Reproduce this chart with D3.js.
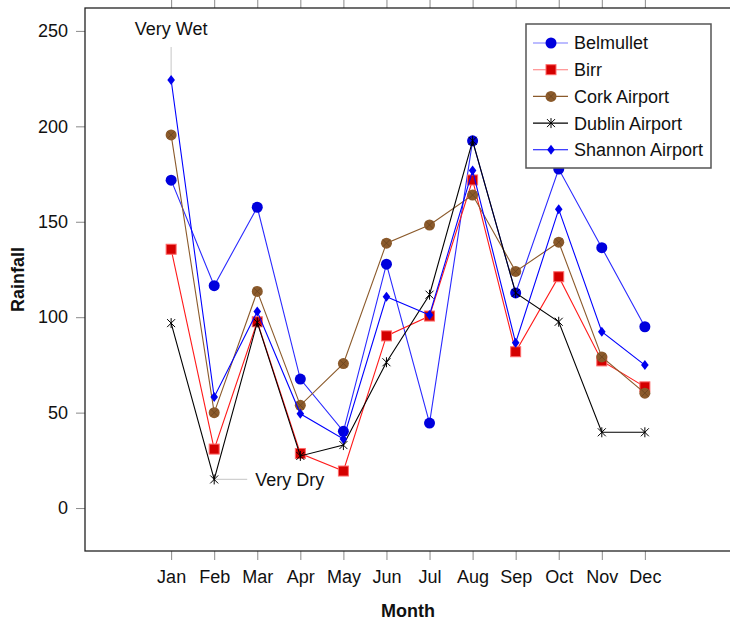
<!DOCTYPE html>
<html>
<head>
<meta charset="utf-8">
<script src="https://cdn.jsdelivr.net/npm/d3@7"></script>
<style>
  html, body { margin: 0; padding: 0; background: #fff; }
  svg { display: block; font-family: "Liberation Sans", Arial, sans-serif; }
</style>
</head>
<body>
<svg id="chart" width="730" height="621"></svg>
<script>
const months = ["Jan","Feb","Mar","Apr","May","Jun","Jul","Aug","Sep","Oct","Nov","Dec"];
const yTicks = [0, 50, 100, 150, 200, 250];

const belmullet = [171.8, 116.5, 157.6, 67.6, 40.2, 127.8, 44.5, 192.4, 112.7, 177.6, 136.4, 95.0];
const birr      = [135.6, 30.9, 97.6, 28.6, 19.4, 90.2, 100.6, 171.9, 81.9, 121.2, 77.1, 63.5];
const cork      = [195.5, 50.0, 113.5, 53.8, 75.7, 138.8, 148.3, 164.0, 124.0, 139.3, 79.2, 60.2];
const dublin    = [96.9, 15.0, 97.3, 27.3, 33.0, 76.4, 111.8, 192.4, 112.7, 97.6, 39.7, 39.7];
const shannon   = [224.3, 58.2, 103.0, 49.4, 36.2, 110.7, 101.2, 176.8, 86.6, 156.5, 92.4, 74.9];

const seriesNames = ["Belmullet", "Birr", "Cork Airport", "Dublin Airport", "Shannon Airport"];
const seriesValues = [belmullet, birr, cork, dublin, shannon];

const styles = {
  "Belmullet":       {line: "#2a2aff", legendLine: "#7a7aff", marker: "circle",  fill: "#0000dd", stroke: "#0000dd"},
  "Birr":            {line: "#ff1a1a", legendLine: "#ff7a7a", marker: "square",  fill: "#d40000", stroke: "#ff6a6a"},
  "Cork Airport":    {line: "#8b5a2b", legendLine: "#8b5a2b", marker: "ocross",  fill: "#8b5a2b", stroke: "#6a4420"},
  "Dublin Airport":  {line: "#000000", legendLine: "#000000", marker: "star",    fill: "none",    stroke: "#000000"},
  "Shannon Airport": {line: "#0000ff", legendLine: "#0000ff", marker: "diamond", fill: "#0000ee", stroke: "#0000ee"}
};

const FS = "18px";
const svg = d3.select("#chart");
const L = 85, T = 8, R = 731, B = 551;

const x = d3.scaleLinear().domain([-2, 13]).range([L, R]);
const y = d3.scaleLinear().domain([-22.5, 262]).range([B, T]);

// Left axis
const yAxis = svg.append("g").attr("transform", `translate(${L},0)`)
  .call(d3.axisLeft(y).tickValues(yTicks).tickSize(9).tickPadding(8).tickSizeOuter(0));
yAxis.select(".domain").remove();
yAxis.selectAll(".tick line").attr("stroke", "#8a8a8a");
yAxis.selectAll(".tick text").attr("fill", "#111").style("font-size", FS).style("font-family", "Liberation Sans, Arial, sans-serif");

// Bottom axis
const xAxis = svg.append("g").attr("transform", `translate(0,${B})`)
  .call(d3.axisBottom(x).tickValues(d3.range(months.length)).tickFormat(i => months[i]).tickSize(9).tickPadding(10).tickSizeOuter(0));
xAxis.select(".domain").remove();
xAxis.selectAll(".tick line").attr("stroke", "#8a8a8a");
xAxis.selectAll(".tick text").attr("fill", "#111").style("font-size", FS).style("font-family", "Liberation Sans, Arial, sans-serif");

// Top axis (ticks only)
const xTop = svg.append("g").attr("transform", `translate(0,${T})`)
  .call(d3.axisTop(x).tickValues(d3.range(months.length)).tickFormat("").tickSize(9).tickSizeOuter(0));
xTop.select(".domain").remove();
xTop.selectAll(".tick line").attr("stroke", "#8a8a8a");

// Frame
svg.append("rect").attr("x", L).attr("y", T).attr("width", R - L).attr("height", B - T)
  .attr("fill", "none").attr("stroke", "#222").attr("stroke-width", 1.3);

// Axis titles
svg.append("text").attr("x", (L + R) / 2).attr("y", 617).attr("text-anchor", "middle")
  .style("font-size", FS).style("font-weight", "bold").attr("fill", "#111").text("Month");
svg.append("text").attr("transform", `translate(24,${(T + B) / 2}) rotate(-90)`).attr("text-anchor", "middle")
  .style("font-size", FS).style("font-weight", "bold").attr("fill", "#111").text("Rainfall");

// Annotations
const wetIdx = 0, dryIdx = 1;
svg.append("line").attr("x1", x(wetIdx)).attr("x2", x(wetIdx)).attr("y1", 47).attr("y2", y(shannon[wetIdx]))
  .attr("stroke", "#d0d0d0").attr("stroke-width", 1.2);
svg.append("text").attr("x", x(wetIdx)).attr("y", 35).attr("text-anchor", "middle")
  .style("font-size", FS).attr("fill", "#111").text("Very Wet");
svg.append("line").attr("x1", x(dryIdx)).attr("x2", x(dryIdx) + 33).attr("y1", y(dublin[dryIdx])).attr("y2", y(dublin[dryIdx]))
  .attr("stroke", "#d0d0d0").attr("stroke-width", 1.2);
svg.append("text").attr("x", x(dryIdx) + 41).attr("y", y(dublin[dryIdx])).attr("dy", "0.35em")
  .style("font-size", FS).attr("fill", "#111").text("Very Dry");

function drawMarker(g, type, st, cx, cy) {
  if (type === "circle") {
    g.append("circle").attr("cx", cx).attr("cy", cy).attr("r", 5.5).attr("fill", st.fill);
  } else if (type === "square") {
    g.append("rect").attr("x", cx - 5).attr("y", cy - 5).attr("width", 10).attr("height", 10)
      .attr("fill", st.fill).attr("stroke", st.stroke).attr("stroke-width", 1);
  } else if (type === "ocross") {
    g.append("circle").attr("cx", cx).attr("cy", cy).attr("r", 5.5).attr("fill", st.fill);
    const d = 3.6;
    g.append("path").attr("d", `M${cx - d},${cy - d}L${cx + d},${cy + d}M${cx - d},${cy + d}L${cx + d},${cy - d}`)
      .attr("stroke", st.stroke).attr("stroke-width", 0.8);
  } else if (type === "star") {
    const d = 4;
    g.append("path").attr("d", `M${cx - d},${cy - d}L${cx + d},${cy + d}M${cx - d},${cy + d}L${cx + d},${cy - d}M${cx},${cy - d - 1}L${cx},${cy + d + 1}`)
      .attr("stroke", st.stroke).attr("stroke-width", 1).attr("fill", "none");
  } else if (type === "diamond") {
    g.append("path").attr("d", `M${cx},${cy - 5}L${cx + 3.8},${cy}L${cx},${cy + 5}L${cx - 3.8},${cy}Z`)
      .attr("fill", st.fill);
  }
}

const lineGen = d3.line().x((d, i) => x(i)).y(d => y(d));

seriesNames.forEach((name, si) => {
  const st = styles[name];
  const vals = seriesValues[si];
  const g = svg.append("g");
  g.append("path").attr("d", lineGen(vals)).attr("fill", "none").attr("stroke", st.line).attr("stroke-width", 1.1);
  vals.forEach((v, i) => drawMarker(g, st.marker, st, x(i), y(v)));
});

// Legend
const lg = svg.append("g");
lg.append("rect").attr("x", 526).attr("y", 24).attr("width", 185).attr("height", 144)
  .attr("fill", "#fff").attr("stroke", "#555").attr("stroke-width", 1.5);
seriesNames.forEach((name, i) => {
  const st = styles[name];
  const cy = 43 + i * 26.7;
  lg.append("line").attr("x1", 533).attr("x2", 568).attr("y1", cy).attr("y2", cy)
    .attr("stroke", st.legendLine).attr("stroke-width", 1.1);
  drawMarker(lg, st.marker, st, 551, cy);
  lg.append("text").attr("x", 574).attr("y", cy).attr("dy", "0.36em")
    .style("font-size", FS).attr("fill", "#111").text(name);
});
</script>
</body>
</html>
